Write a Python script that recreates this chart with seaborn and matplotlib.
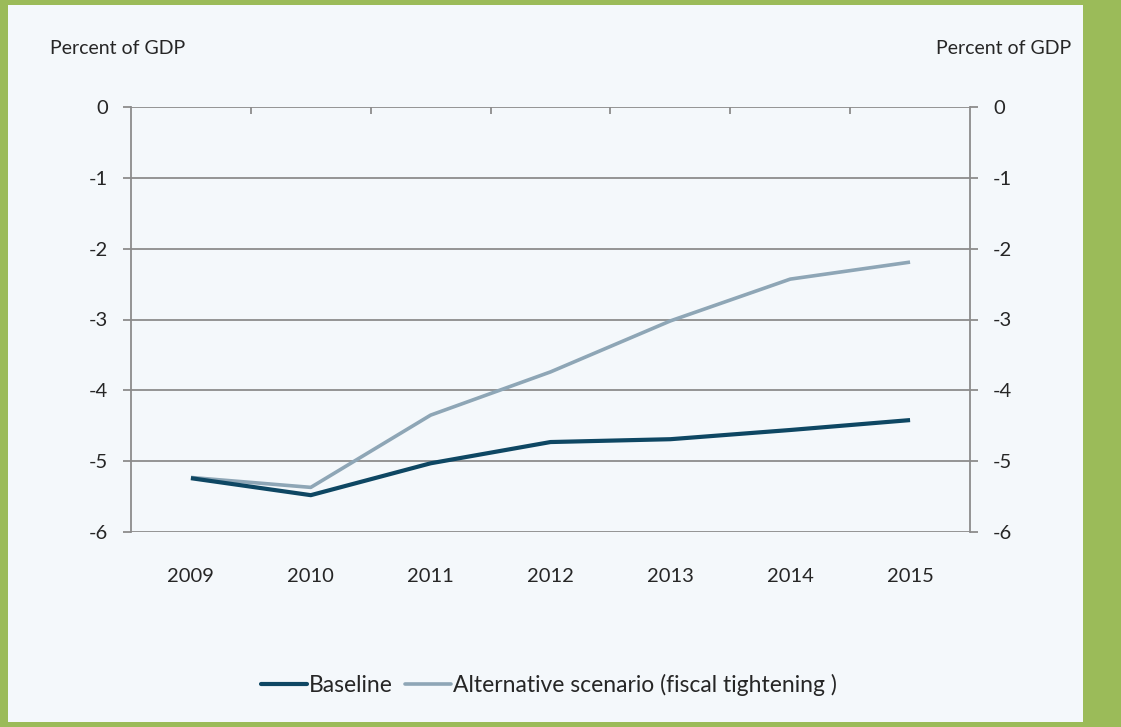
import matplotlib
matplotlib.use("Agg")
import matplotlib.pyplot as plt
from matplotlib.patches import Rectangle
import numpy as np
import pandas as pd
import seaborn as sns

# Budget balance projections, percent of GDP
years = ["2009", "2010", "2011", "2012", "2013", "2014", "2015"]
baseline = [-5.24, -5.48, -5.03, -4.73, -4.69, -4.56, -4.42]
alternative = [-5.23, -5.37, -4.35, -3.74, -3.02, -2.43, -2.19]
series_names = ["Baseline", "Alternative scenario (fiscal tightening )"]
y_ticks = [0, -1, -2, -3, -4, -5, -6]

green = "#9BBB59"
panel = "#F4F8FB"
grey = "#8C8C8C"
text_col = "#262626"
colors = {series_names[0]: "#0E4763", series_names[1]: "#8EA6B6"}
widths = {series_names[0]: 3.0, series_names[1]: 2.6}

sns.set_theme(style="white")
plt.rcParams["font.family"] = ["Lato", "DejaVu Sans"]

df = pd.DataFrame({
    "pos": list(range(len(years))) * 2,
    "value": baseline + alternative,
    "series": [series_names[0]] * len(years) + [series_names[1]] * len(years),
})

fig = plt.figure(figsize=(11.21, 7.27), dpi=100)
fig.patch.set_facecolor(green)
fig.patches.append(Rectangle((8 / 1121, 5 / 727), 1075 / 1121, 717 / 727,
                             transform=fig.transFigure, facecolor=panel,
                             edgecolor="none", zorder=-10))

ax = fig.add_axes([131 / 1121, 1 - 532 / 727, 839 / 1121, 425 / 727])
ax.set_facecolor("none")
ax.set_zorder(1)

for y in y_ticks:
    ax.axhline(y, color=grey, lw=1.3, zorder=1)

sns.lineplot(data=df, x="pos", y="value", hue="series", palette=colors,
             hue_order=series_names[::-1], ax=ax, legend=False, zorder=3)
# per-series line widths
data_lines = [l for l in ax.get_lines() if len(l.get_xdata()) == len(years)]
for line, name in zip(data_lines, series_names[::-1]):
    line.set_linewidth(widths[name])
    line.set_solid_capstyle("butt")
    line.set_solid_joinstyle("round")

ax.set_xlim(-0.5, len(years) - 0.5)
ax.set_ylim(-6, 0)
ax.set_xlabel("")
ax.set_ylabel("")

for side in ["left", "right"]:
    ax.spines[side].set_visible(True)
    ax.spines[side].set_color(grey)
    ax.spines[side].set_linewidth(1.3)
for side in ["top", "bottom"]:
    ax.spines[side].set_visible(False)

ax.set_yticks(y_ticks)
ax.set_yticklabels([str(v) for v in y_ticks])
ax.tick_params(axis="y", which="major", left=True, right=True, labelleft=True,
               labelright=True, direction="out", length=5.5, width=1.3,
               color=grey, labelsize=14.5, labelcolor=text_col, pad=11)

ax.set_xticks(range(len(years)))
ax.set_xticklabels(years)
ax.set_xticks(np.arange(0.5, len(years) - 1, 1.0), minor=True)
ax.tick_params(axis="x", which="major", bottom=False, top=False, length=0,
               labelsize=14.5, labelcolor=text_col, pad=26)
ax.tick_params(axis="x", which="minor", bottom=False, top=True, direction="in",
               length=5, width=1.3, color=grey)

fig.text(50 / 1121, 1 - 48 / 727, "Percent of GDP", fontsize=14, color=text_col,
         ha="left", va="center")
fig.text(1071 / 1121, 1 - 48 / 727, "Percent of GDP", fontsize=14, color=text_col,
         ha="right", va="center")

handles = [plt.Line2D([], [], color=colors[n], lw=widths[n]) for n in series_names]
fig.legend(handles, series_names, loc="center", bbox_to_anchor=(549 / 1121, 1 - 685 / 727),
           ncol=2, frameon=False, fontsize=16.5, handlelength=2.0, handletextpad=0.1,
           columnspacing=0.55, labelcolor=text_col)

fig.savefig("out.png", dpi=100, facecolor=green)
